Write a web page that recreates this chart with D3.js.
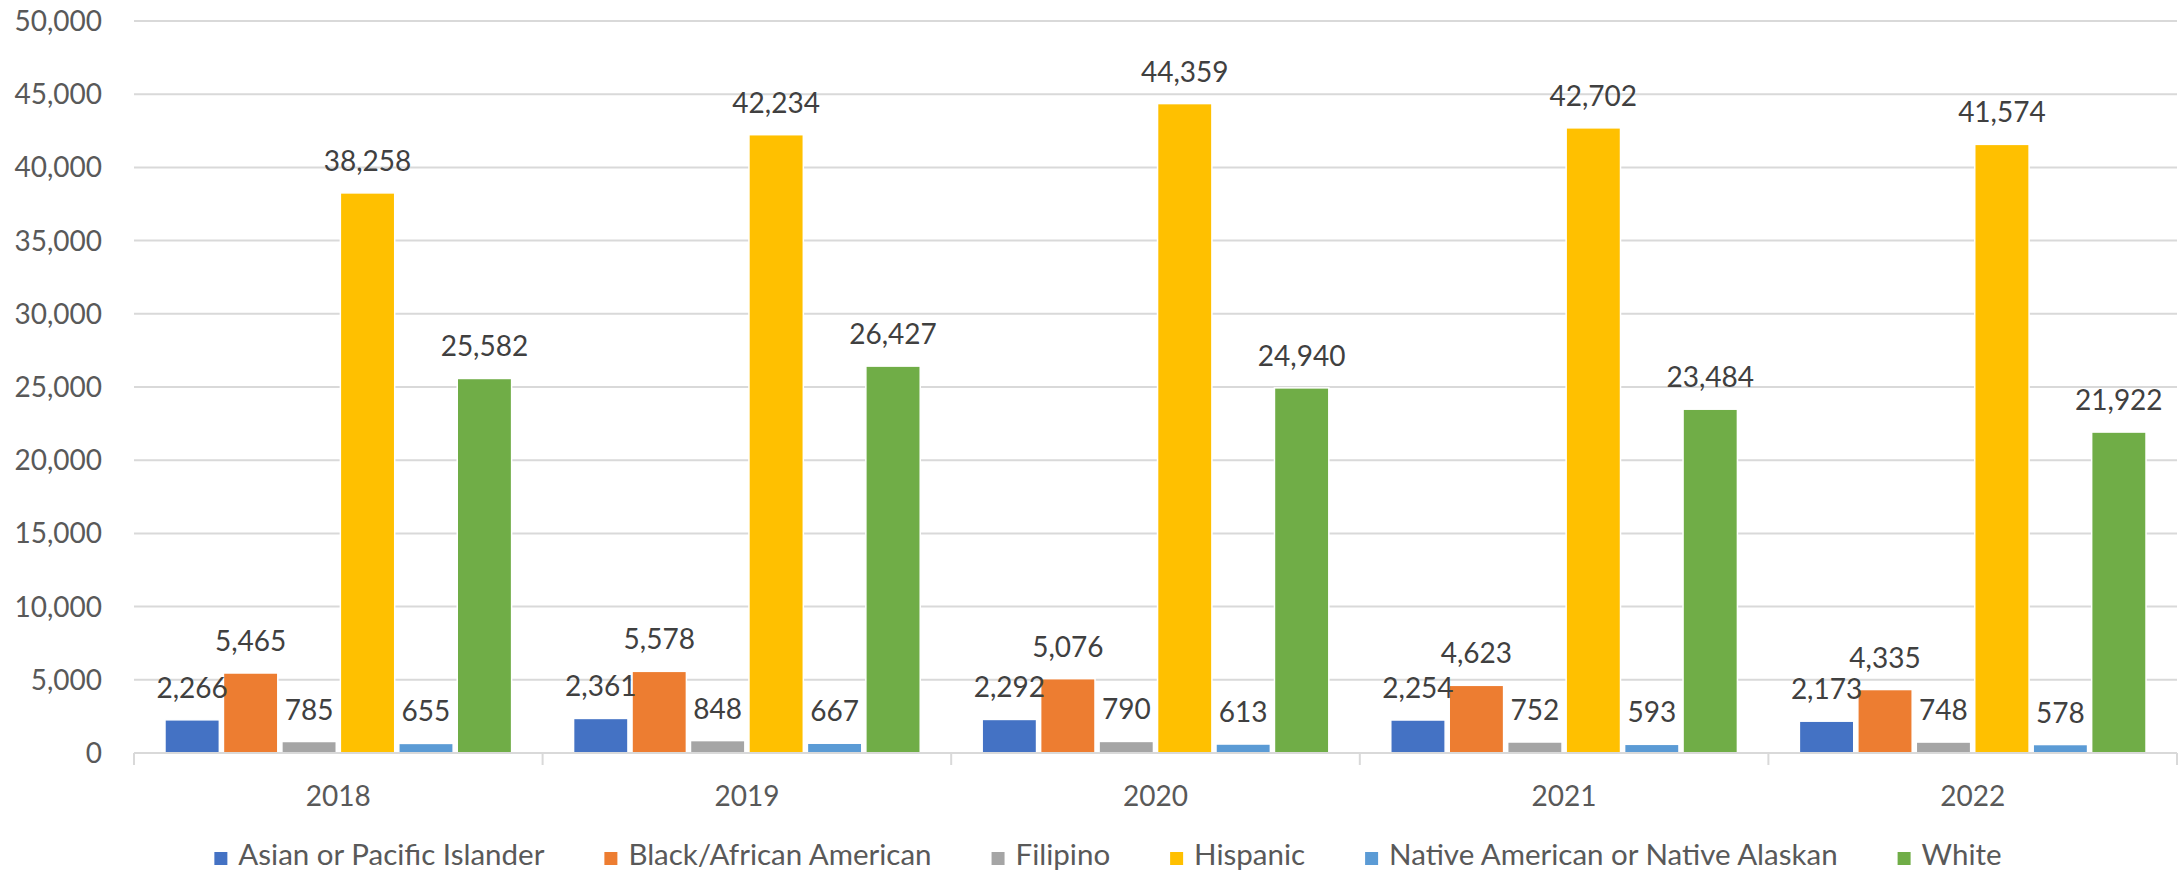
<!DOCTYPE html>
<html lang="en">
<head>
  <meta charset="UTF-8">
  <title>Enrollment by ethnicity</title>
  <script src="https://d3js.org/d3.v7.min.js"></script>
  <style>
    body { margin: 0; padding: 0; background: #fff; }
    svg { display: block; font-family: Lato, "Open Sans", sans-serif; }
    .grid line { stroke: #d9d9d9; stroke-width: 2px; }
    .ylab, .xlab { font-size: 28px; fill: #595959; }
    .legend text { font-size: 29.5px; fill: #595959; }
    .val { font-size: 28px; fill: #404040; text-anchor: middle; }
  </style>
</head>
<body>
  <svg width="2183" height="874"></svg>
  <script>
    // === dados ===
    const years = ["2018", "2019", "2020", "2021", "2022"];
    const seriesNames = ["Asian or Pacific Islander", "Black/African American", "Filipino",
      "Hispanic", "Native American or Native Alaskan", "White"];
    const seriesColors = ["#4472C4", "#ED7D31", "#A5A5A5", "#FFC000", "#5B9BD5", "#70AD47"];

    const asian    = [2266, 2361, 2292, 2254, 2173];
    const black    = [5465, 5578, 5076, 4623, 4335];
    const filipino = [785, 848, 790, 752, 748];
    const hispanic = [38258, 42234, 44359, 42702, 41574];
    const native   = [655, 667, 613, 593, 578];
    const white    = [25582, 26427, 24940, 23484, 21922];

    const yTicks = [0, 5000, 10000, 15000, 20000, 25000, 30000, 35000, 40000, 45000, 50000];

    const seriesValues = [asian, black, filipino, hispanic, native, white];
    const rows = years.map((yr, i) => ({
      year: yr,
      bars: seriesNames.map((s, j) => ({ key: s, value: seriesValues[j][i], color: seriesColors[j] }))
    }));

    // === layout ===
    const svg = d3.select("svg");
    const m = { left: 134, right: 2177, top: 21, bottom: 753 };

    const x0 = d3.scaleBand().domain(years).range([m.left, m.right]).padding(0);
    const x1 = d3.scaleBand().domain(seriesNames).range([0, x0.bandwidth()])
      .paddingInner(0.07).paddingOuter(0.53);
    const y = d3.scaleLinear().domain([0, 50000]).range([m.bottom, m.top]);
    const fmt = d3.format(",");

    // gridlines
    svg.append("g").attr("class", "grid")
      .selectAll("line").data(yTicks.filter(d => d > 0)).enter()
      .append("line")
      .attr("x1", m.left).attr("x2", m.right)
      .attr("y1", d => y(d)).attr("y2", d => y(d));

    // y labels
    svg.append("g").selectAll("text").data(yTicks).enter()
      .append("text").attr("class", "ylab")
      .attr("x", 102).attr("y", d => y(d)).attr("dy", "0.36em")
      .attr("text-anchor", "end")
      .text(d => fmt(d));

    // bars
    const grp = svg.append("g").selectAll("g").data(rows).enter()
      .append("g").attr("transform", d => `translate(${x0(d.year)},0)`);

    grp.selectAll("rect").data(d => d.bars).enter()
      .append("rect")
      .attr("x", d => x1(d.key)).attr("width", x1.bandwidth())
      .attr("y", d => y(d.value)).attr("height", d => y(0) - y(d.value))
      .attr("fill", d => d.color)
      .attr("stroke", "#fff").attr("stroke-width", 1.5);

    grp.selectAll("text").data(d => d.bars).enter()
      .append("text").attr("class", "val")
      .attr("x", d => x1(d.key) + x1.bandwidth() / 2)
      .attr("y", d => y(d.value) - 22)
      .text(d => fmt(d.value));

    // x axis
    const ax = svg.append("g");
    ax.append("line").attr("x1", m.left).attr("x2", m.right)
      .attr("y1", m.bottom).attr("y2", m.bottom)
      .attr("stroke", "#d9d9d9").attr("stroke-width", 2);
    const bounds = years.map(d => x0(d)).concat([m.right]);
    ax.selectAll("line.tick").data(bounds).enter()
      .append("line").attr("class", "tick")
      .attr("x1", d => d).attr("x2", d => d)
      .attr("y1", m.bottom).attr("y2", m.bottom + 12)
      .attr("stroke", "#d9d9d9").attr("stroke-width", 2);
    ax.selectAll("text").data(years).enter()
      .append("text").attr("class", "xlab")
      .attr("x", d => x0(d) + x0.bandwidth() / 2).attr("y", 806)
      .attr("text-anchor", "middle")
      .text(d => d);

    // legend
    const leg = svg.append("g").attr("class", "legend");
    const items = leg.selectAll("g").data(seriesNames).enter().append("g");
    items.append("rect").attr("width", 13).attr("height", 13).attr("y", 852)
      .attr("fill", (d, i) => seriesColors[i]);
    items.append("text").attr("x", 24).attr("y", 865).text(d => d);

    let cx = 0;
    const pos = [];
    items.each(function () {
      const w = d3.select(this).select("text").node().getComputedTextLength();
      pos.push(cx);
      cx += 24 + w + 60;
    });
    const total = cx - 60;
    const start = 1108 - total / 2;
    items.attr("transform", (d, i) => `translate(${start + pos[i]},0)`);
  </script>
</body>
</html>
